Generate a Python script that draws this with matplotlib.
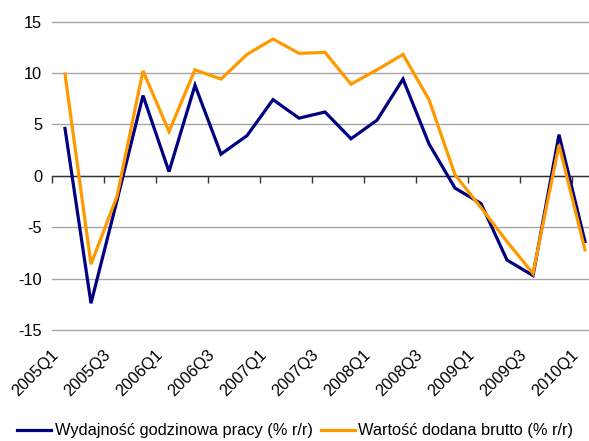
import matplotlib
matplotlib.use("Agg")
import matplotlib.pyplot as plt
import matplotlib.transforms as mtransforms
import numpy as np

plt.rcParams['font.family'] = ['Liberation Sans', 'DejaVu Sans']

quarters = ["2005Q1", "2005Q2", "2005Q3", "2005Q4",
            "2006Q1", "2006Q2", "2006Q3", "2006Q4",
            "2007Q1", "2007Q2", "2007Q3", "2007Q4",
            "2008Q1", "2008Q2", "2008Q3", "2008Q4",
            "2009Q1", "2009Q2", "2009Q3", "2009Q4",
            "2010Q1"]

productivity = [4.6, -12.4, -2.4, 7.8, 0.4, 8.8, 2.1, 3.9, 7.4, 5.6, 6.2,
                3.6, 5.4, 9.4, 3.1, -1.2, -2.7, -8.2, -9.7, 4.0, -6.4]
value_added = [9.9, -8.6, -2.0, 10.2, 4.3, 10.3, 9.4, 11.8, 13.3, 11.9, 12.0,
               8.9, 10.3, 11.8, 7.4, 0.1, -3.1, -6.4, -9.5, 3.0, -7.2]

label_productivity = "Wydajność godzinowa pracy (% r/r)"
label_value_added = "Wartość dodana brutto (% r/r)"

navy = "#000080"
orange = "#FF9900"
fs = 11.8

fig = plt.figure(figsize=(5.89, 4.41), dpi=100)
ax = fig.add_axes([52 / 589, 111 / 441, 546 / 589, 308.5 / 441])

x = np.arange(len(quarters))
ax.plot(x, productivity, color=navy, lw=2.3, solid_joinstyle='miter',
        label=label_productivity, zorder=3)
ax.plot(x, value_added, color=orange, lw=2.3, solid_joinstyle='miter',
        label=label_value_added, zorder=4)

ax.set_xlim(-0.5, len(quarters) - 0.5)
ax.set_ylim(-15, 15)
ax.set_yticks([-15, -10, -5, 0, 5, 10, 15])
ax.set_yticklabels(["-15", "-10", "-5", "0", "5", "10", "15"])
ax.yaxis.grid(True, color="#A6A6A6", lw=1.0)
for gl in ax.get_ygridlines():
    gl.set_clip_on(False)
ax.set_axisbelow(True)
ax.tick_params(axis='y', length=0, pad=7, labelsize=fs, colors='black')

for side in ('left', 'right', 'top'):
    ax.spines[side].set_visible(False)

# zero line carrying the category boundary tick marks
ax.spines['bottom'].set_position(('data', 0))
ax.spines['bottom'].set_color('#333333')
ax.spines['bottom'].set_linewidth(1.0)
ax.spines['bottom'].set_zorder(2)
ax.set_xticks(np.arange(-0.5, len(quarters), 2))
ax.set_xticklabels([])
ax.tick_params(axis='x', direction='out', length=5, width=1.0, color='#333333')

# quarter labels along the lower edge
sec = ax.secondary_xaxis(0.0)
sec.spines['bottom'].set_visible(False)
sec.set_xticks(x[::2])
sec.set_xticklabels(quarters[::2], rotation=45, ha='right', va='center',
                    rotation_mode='anchor', fontsize=fs)
sec.tick_params(axis='x', length=0, pad=16)
shift = mtransforms.ScaledTranslation(-9 / 100, 0, fig.dpi_scale_trans)
for lab in sec.get_xticklabels():
    lab.set_transform(lab.get_transform() + shift)

fig.legend(loc='center left', bbox_to_anchor=(17 / 589, 1 - 431 / 441),
           ncol=2, frameon=False, fontsize=fs, handlelength=2.1,
           handletextpad=0.2, columnspacing=0.5, borderpad=0,
           borderaxespad=0)

fig.savefig("out.png", dpi=100)
